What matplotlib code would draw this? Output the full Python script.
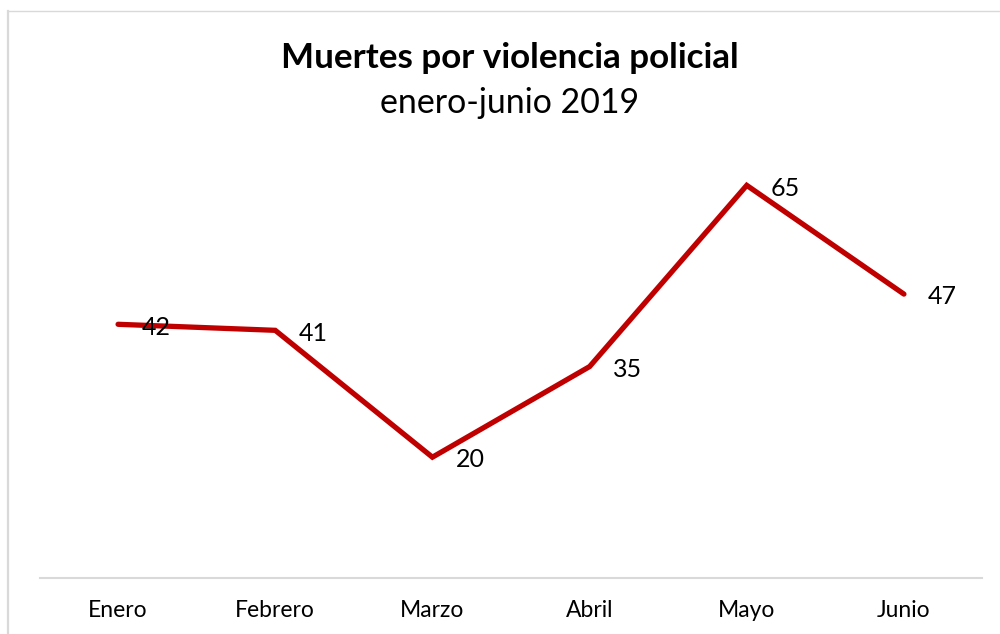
import matplotlib
matplotlib.use('Agg')
import matplotlib.pyplot as plt
from matplotlib.lines import Line2D

months = ['Enero', 'Febrero', 'Marzo', 'Abril', 'Mayo', 'Junio']
deaths = [42, 41, 20, 35, 65, 47]

plt.rcParams['font.family'] = ['Lato', 'DejaVu Sans']

fig = plt.figure(figsize=(10, 6.34), dpi=100)
ax = fig.add_axes([0.0395, 0.0883, 0.943, 0.667])

x = range(len(months))
ax.plot(x, deaths, color='#C00000', linewidth=3.8, solid_capstyle='round',
        solid_joinstyle='miter')

# data labels to the right of each point
for i, v in zip(x, deaths):
    ax.annotate(str(v), (i, v), xytext=(17, -2), textcoords='offset points',
                ha='left', va='center', fontsize=18, color='#000000')

ax.set_xlim(-0.5, len(months) - 0.5)
ax.set_ylim(0, 70)
ax.set_xticks(list(x))
ax.set_xticklabels(months, fontsize=16.5)
ax.tick_params(axis='x', length=0, pad=15.5)
ax.set_yticks([])
for s in ['top', 'right', 'left']:
    ax.spines[s].set_visible(False)
ax.spines['bottom'].set_color('#D9D9D9')
ax.spines['bottom'].set_linewidth(1.5)

fig.text(0.51, 0.909, 'Muertes por violencia policial', ha='center', va='center',
         fontsize=25.2, fontweight='bold')
fig.text(0.51, 0.838, 'enero-junio 2019', ha='center', va='center', fontsize=24.4)

# chart border (cut off at right and bottom)
fig.add_artist(Line2D([0.008, 0.008], [0, 0.983], color='#D9D9D9', linewidth=1.6,
                      transform=fig.transFigure))
fig.add_artist(Line2D([0.008, 1.0], [0.983, 0.983], color='#D9D9D9', linewidth=1.0,
                      transform=fig.transFigure))

fig.savefig('out.png', dpi=100)
